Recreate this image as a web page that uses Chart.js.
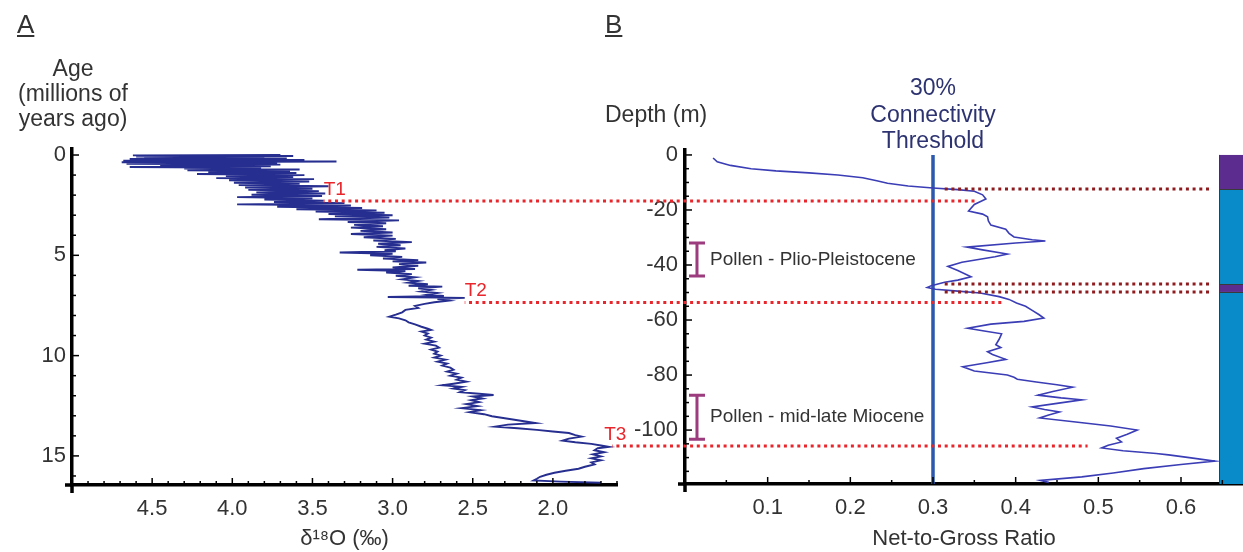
<!DOCTYPE html>
<html>
<head>
<meta charset="utf-8">
<script src="https://cdn.jsdelivr.net/npm/chart.js@4.4.1/dist/chart.umd.min.js"></script>
<style>
  body { margin: 0; background: #fff; }
  #wrap { position: relative; width: 1243px; height: 552px; overflow: hidden; }
  canvas { position: absolute; top: 0; }
  #cvA { left: 0; }
  #cvB { left: 590px; }
</style>
</head>
<body>
<div id="wrap">
  <canvas id="cvA" width="640" height="552"></canvas>
  <canvas id="cvB" width="653" height="552"></canvas>
</div>
<script>
// ---- Panel A: benthic d18O stack vs age ----
const ageMa = [
  0.00, 0.02, 0.05, 0.08, 0.11, 0.14, 0.17, 0.20, 0.24, 0.28, 0.32, 0.36, 0.40, 0.44, 0.48, 0.52,
  0.56, 0.60, 0.64, 0.68, 0.72, 0.76, 0.80, 0.85, 0.90, 0.95, 1.00, 1.05, 1.10, 1.15, 1.20, 1.26,
  1.32, 1.38, 1.44, 1.50, 1.56, 1.62, 1.68, 1.74, 1.80, 1.86, 1.92, 1.98, 2.04, 2.10, 2.16, 2.22,
  2.28, 2.34, 2.40, 2.46, 2.52, 2.58, 2.64, 2.70, 2.76, 2.82, 2.88, 2.94, 3.00, 3.06, 3.12, 3.20,
  3.26, 3.34, 3.40, 3.48, 3.55, 3.62, 3.70, 3.78, 3.86, 3.94, 4.02, 4.10, 4.18, 4.26, 4.34, 4.42,
  4.50, 4.58, 4.66, 4.74, 4.80, 4.86, 4.92, 5.00, 5.08, 5.16, 5.24, 5.30, 5.36, 5.44, 5.52, 5.60,
  5.68, 5.72, 5.78, 5.86, 5.94, 6.02, 6.10, 6.20, 6.28, 6.36, 6.44, 6.52, 6.56, 6.64, 6.72, 6.80,
  6.88, 6.96, 7.02, 7.08, 7.12, 7.18, 7.26, 7.34, 7.42, 7.52, 7.62, 7.72, 7.84, 7.96, 8.06, 8.14,
  8.24, 8.34, 8.44, 8.56, 8.66, 8.72, 8.80, 8.90, 9.00, 9.10, 9.20, 9.30, 9.40, 9.50, 9.60, 9.70,
  9.80, 9.90, 10.00, 10.10, 10.20, 10.30, 10.40, 10.50, 10.60, 10.70, 10.80, 10.90, 11.00, 11.10, 11.20, 11.30,
  11.40, 11.48, 11.56, 11.64, 11.72, 11.82, 11.90, 11.96, 12.04, 12.14, 12.22, 12.32, 12.42, 12.52, 12.62, 12.72,
  12.82, 12.92, 13.02, 13.10, 13.20, 13.30, 13.36, 13.44, 13.54, 13.62, 13.70, 13.78, 13.86, 13.96, 14.04, 14.14,
  14.24, 14.32, 14.40, 14.48, 14.55, 14.62, 14.72, 14.82, 14.92, 15.02, 15.12, 15.22, 15.32, 15.42, 15.54, 15.64,
  15.74, 15.84, 15.94, 16.04, 16.14, 16.22, 16.28, 16.34
];
const d18O = [
  3.70, 4.62, 3.62, 4.60, 3.80, 4.55, 3.66, 4.64, 3.55, 4.68, 3.35, 4.69, 3.72, 4.66, 3.70, 4.45,
  3.76, 4.64, 3.82, 4.30, 3.58, 4.28, 3.64, 4.15, 3.60, 4.22, 3.55, 4.04, 3.62, 4.10, 3.49, 4.02,
  3.52, 3.99, 3.58, 3.96, 3.40, 3.92, 3.50, 3.90, 3.46, 3.85, 3.42, 3.88, 3.44, 3.97, 3.50, 3.80,
  3.43, 3.74, 3.30, 3.97, 3.26, 3.72, 3.19, 3.60, 3.10, 3.48, 3.05, 3.40, 3.00, 3.36, 3.02, 3.46,
  2.96, 3.28, 3.04, 3.24, 3.06, 3.26, 3.04, 3.20, 3.00, 3.26, 3.00, 3.18, 2.98, 3.12, 2.88, 3.09,
  2.95, 3.10, 2.92, 3.05, 2.98, 3.33, 3.00, 3.14, 2.94, 3.06, 2.84, 3.00, 2.79, 2.96, 2.84, 3.00,
  2.86, 3.22, 2.92, 3.04, 2.88, 2.98, 2.86, 2.94, 2.84, 2.90, 2.78, 2.90, 2.69, 2.84, 2.76, 2.82,
  2.72, 2.78, 2.68, 3.03, 2.55, 2.72, 2.65, 2.74, 2.80, 2.86, 2.84, 2.92, 2.94, 2.98, 3.02, 2.96,
  2.92, 2.90, 2.86, 2.82, 2.78, 2.76, 2.82, 2.78, 2.80, 2.76, 2.79, 2.74, 2.80, 2.73, 2.71, 2.76,
  2.72, 2.74, 2.70, 2.74, 2.67, 2.72, 2.66, 2.69, 2.64, 2.62, 2.66, 2.60, 2.64, 2.57, 2.60, 2.54,
  2.62, 2.69, 2.57, 2.62, 2.55, 2.58, 2.46, 2.37, 2.50, 2.44, 2.51, 2.46, 2.54, 2.47, 2.57, 2.45,
  2.52, 2.43, 2.38, 2.32, 2.24, 2.16, 2.11, 2.28, 2.36, 2.22, 2.10, 2.00, 1.90, 1.86, 1.82, 1.90,
  1.94, 1.86, 1.76, 1.70, 1.65, 1.72, 1.74, 1.68, 1.75, 1.70, 1.76, 1.70, 1.76, 1.74, 1.80, 1.84,
  1.92, 1.99, 2.04, 2.08, 2.10, 2.12, 1.95, 1.70
];

// climate transitions, marked in both panels
const tNames = ['T1', 'T2', 'T3'];
const tAgeMa = [2.29, 7.35, 14.5];
const tD18O = [3.43, 2.55, 1.63];
const tDepthM = [-16.7, -53.6, -105.8];
const tNtgEnd = [0.351, 0.385, 0.487];

// ---- Panel B: net-to-gross ratio vs depth ----
const depthM = [
  -1.1, -2.5, -3.8, -5.0, -5.8, -6.5, -7.3, -8.3, -9.4, -10.3, -11.3, -12.0, -12.6, -13.2, -14.5, -16.0,
  -18.0, -20.4, -21.5, -22.5, -24.0, -25.5, -27.0, -28.5, -29.8, -30.8, -31.3, -32.0, -33.5, -34.5, -36.0, -37.0,
  -39.0, -40.5, -42.0, -44.3, -45.5, -46.3, -47.5, -48.2, -48.8, -49.5, -50.2, -51.5, -52.5, -53.8, -55.0, -56.5,
  -58.0, -59.3, -60.5, -61.5, -63.0, -64.0, -65.0, -67.0, -69.0, -70.0, -71.5, -72.5, -74.3, -75.5, -77.0, -78.5,
  -80.0, -80.8, -81.5, -82.5, -83.5, -84.4, -86.0, -87.3, -88.3, -89.0, -90.3, -91.6, -92.5, -93.4, -94.5, -95.6,
  -97.0, -98.5, -100.0, -101.5, -103.0, -104.3, -105.5, -106.5, -107.5, -108.5, -109.0, -110.0, -111.3, -112.5, -114.0, -115.6,
  -117.0, -118.3, -119.0
];
const netToGross = [
  0.034, 0.039, 0.055, 0.080, 0.110, 0.150, 0.185, 0.215, 0.232, 0.245, 0.270, 0.300, 0.330, 0.350, 0.360, 0.364,
  0.350, 0.343, 0.360, 0.366, 0.367, 0.370, 0.388, 0.392, 0.398, 0.420, 0.436, 0.400, 0.341, 0.360, 0.390, 0.375,
  0.335, 0.318, 0.330, 0.346, 0.330, 0.314, 0.298, 0.293, 0.303, 0.330, 0.357, 0.380, 0.392, 0.401, 0.412, 0.420,
  0.428, 0.434, 0.410, 0.370, 0.342, 0.362, 0.383, 0.380, 0.376, 0.382, 0.366, 0.372, 0.388, 0.365, 0.336, 0.350,
  0.390, 0.398, 0.402, 0.425, 0.450, 0.469, 0.445, 0.427, 0.455, 0.480, 0.450, 0.420, 0.435, 0.453, 0.440, 0.429,
  0.470, 0.515, 0.547, 0.535, 0.522, 0.528, 0.512, 0.504, 0.530, 0.570, 0.585, 0.610, 0.641, 0.600, 0.555, 0.518,
  0.480, 0.430, 0.440
];
const threshold = 0.3;
const thresholdLabel = ['30%', 'Connectivity', 'Threshold'];

// lithology column and its boundaries
const zoneTopM = [0, -12.4, -46.9, -49.8];
const zoneBaseM = [-12.4, -46.9, -49.8, -119.6];
const boundaryDepthM = [-12.4, -46.9, -49.8];

// pollen age control
const pollenLabels = ['Pollen - Plio-Pleistocene', 'Pollen - mid-late Miocene'];
const pollenTopM = [-32.0, -87.3];
const pollenBaseM = [-44.0, -103.3];

// ---- styles ----
const FONT = '"Liberation Sans", Arial, Helvetica, sans-serif';
const TEXT = '#333333';
const RED = '#e8262b';
const DARK_RED = '#8e1b1e';
const NAVY = '#262e8f';
const CURVE_B = '#3a3db5';
const THRESH = '#2c58ad';
const POLLEN = '#9c3b7e';
const ZONE_COLORS = ['#5c2d8e', '#0a8bc9', '#5c2d8e', '#0a8bc9'];

Chart.defaults.font.family = FONT;
Chart.defaults.color = TEXT;

function isMultiple(v, step) {
  const r = v / step;
  return Math.abs(r - Math.round(r)) < 1e-6;
}

function dottedLine(ctx, x0, x1, y, color, pageLeft) {
  ctx.save();
  ctx.strokeStyle = color;
  ctx.lineWidth = 3;
  ctx.setLineDash([3, 3.7]);
  ctx.lineDashOffset = x0 + pageLeft;
  ctx.beginPath();
  ctx.moveTo(x0, y);
  ctx.lineTo(x1, y);
  ctx.stroke();
  ctx.restore();
}

function text(ctx, str, x, y, size, color, align) {
  ctx.font = size + 'px ' + FONT;
  ctx.fillStyle = color;
  ctx.textAlign = align || 'left';
  ctx.textBaseline = 'alphabetic';
  ctx.fillText(str, x, y);
}

function panelLetter(ctx, letter, x) {
  text(ctx, letter, x, 33, 26, TEXT);
  const w = ctx.measureText(letter).width;
  ctx.fillRect(x, 35, w, 2);
}

// tick marks drawn on the inside of the axes, plus the short
// overhang where the two axis lines cross
const inwardTicks = {
  id: 'inwardTicks',
  afterDraw(chart, args, opts) {
    const ctx = chart.ctx;
    const area = chart.chartArea;
    ctx.save();
    ctx.strokeStyle = '#000';
    ctx.lineWidth = 3.5;
    ctx.beginPath();
    ctx.moveTo(area.left - 7, area.bottom);
    ctx.lineTo(area.left, area.bottom);
    ctx.moveTo(area.left, area.bottom);
    ctx.lineTo(area.left, area.bottom + 8);
    ctx.stroke();

    ctx.lineWidth = 1.5;
    ['x', 'y'].forEach(id => {
      const scale = chart.scales[id];
      scale.ticks.forEach(t => {
        const p = scale.getPixelForValue(t.value);
        const len = isMultiple(t.value, opts[id]) ? 7 : 4;
        ctx.beginPath();
        if (scale.isHorizontal()) {
          ctx.moveTo(p, scale.top);
          ctx.lineTo(p, scale.top - len);
        } else {
          ctx.moveTo(scale.right, p);
          ctx.lineTo(scale.right + len, p);
        }
        ctx.stroke();
      });
    });
    ctx.restore();
  }
};

const panelA = {
  id: 'panelA',
  afterDraw(chart) {
    const {ctx, scales: {x, y}} = chart;
    ctx.save();
    panelLetter(ctx, 'A', 17);
    text(ctx, 'Age', 73, 76, 23, TEXT, 'center');
    text(ctx, '(millions of', 73, 101, 23, TEXT, 'center');
    text(ctx, 'years ago)', 73, 126, 23, TEXT, 'center');
    tNames.forEach((name, i) => {
      const px = x.getPixelForValue(tD18O[i]);
      const py = y.getPixelForValue(tAgeMa[i]);
      dottedLine(ctx, px, chart.width, py, RED, 0);
      text(ctx, name, px - (i === 2 ? 8 : 0), py - 6, 19, RED);
    });
    ctx.restore();
  }
};

const panelB = {
  id: 'panelB',
  afterDatasetsDraw(chart) {
    const {ctx, scales: {x, y}} = chart;
    const pageLeft = 590;
    ctx.save();
    panelLetter(ctx, 'B', 15);
    text(ctx, 'Depth (m)', 15, 122, 23, TEXT);

    const tx = x.getPixelForValue(threshold);
    thresholdLabel.forEach((s, i) => text(ctx, s, tx, 95 + i * 26.5, 23, '#2d3370', 'center'));

    // lithology column at the right edge
    const sx = x.getPixelForValue(0.646);
    zoneTopM.forEach((top, i) => {
      const y0 = y.getPixelForValue(top);
      const y1 = y.getPixelForValue(zoneBaseM[i]);
      ctx.fillStyle = ZONE_COLORS[i];
      ctx.fillRect(sx, y0, chart.width - sx, y1 - y0);
    });
    ctx.strokeStyle = '#3a3a3a';
    ctx.lineWidth = 1;
    ctx.beginPath();
    ctx.moveTo(sx + 0.5, y.getPixelForValue(0));
    ctx.lineTo(sx + 0.5, y.getPixelForValue(zoneBaseM[zoneBaseM.length - 1]));
    boundaryDepthM.forEach(d => {
      const py = Math.round(y.getPixelForValue(d)) + 0.5;
      ctx.moveTo(sx, py);
      ctx.lineTo(chart.width, py);
    });
    ctx.stroke();

    boundaryDepthM.forEach(d => {
      dottedLine(ctx, x.getPixelForValue(0.311), x.getPixelForValue(0.636), y.getPixelForValue(d), DARK_RED, pageLeft);
    });

    // transitions carried over from panel A
    tDepthM.forEach((d, i) => {
      dottedLine(ctx, 50, x.getPixelForValue(tNtgEnd[i]), y.getPixelForValue(d), RED, pageLeft);
    });

    // pollen ranges
    const bx = x.getPixelForValue(0.0145);
    ctx.strokeStyle = POLLEN;
    ctx.lineWidth = 3;
    pollenLabels.forEach((label, i) => {
      const y0 = y.getPixelForValue(pollenTopM[i]);
      const y1 = y.getPixelForValue(pollenBaseM[i]);
      ctx.beginPath();
      ctx.moveTo(bx, y0); ctx.lineTo(bx, y1);
      ctx.moveTo(bx - 8, y0); ctx.lineTo(bx + 8, y0);
      ctx.moveTo(bx - 8, y1); ctx.lineTo(bx + 8, y1);
      ctx.stroke();
      ctx.font = '19px ' + FONT;
      ctx.fillStyle = TEXT;
      ctx.textAlign = 'left';
      ctx.textBaseline = 'middle';
      ctx.fillText(label, bx + 13, (y0 + y1) / 2);
    });
    ctx.restore();
  }
};

const axisBorder = {display: true, color: '#000', width: 3.5};
const tickFont = {family: FONT, size: 22};

new Chart(document.getElementById('cvA'), {
  type: 'scatter',
  data: {
    datasets: [{
      data: ageMa.map((a, i) => ({x: d18O[i], y: a})),
      showLine: true,
      borderColor: NAVY,
      borderWidth: 1.9,
      pointRadius: 0
    }]
  },
  options: {
    responsive: false,
    animation: false,
    layout: {padding: {top: 149, right: 23, left: 0, bottom: 0}},
    plugins: {legend: {display: false}, tooltip: {enabled: false}, inwardTicks: {x: 0.5, y: 5}},
    scales: {
      x: {
        type: 'linear', reverse: true, min: 1.6, max: 5.0,
        grid: {display: false, drawTicks: false},
        border: axisBorder,
        ticks: {
          stepSize: 0.1, autoSkip: false, includeBounds: false, maxRotation: 0, padding: 11,
          font: tickFont, color: TEXT,
          callback: v => (isMultiple(v, 0.5) && v < 4.9) ? v.toFixed(1) : ''
        },
        title: {display: true, text: 'δ¹⁸O (‰)', font: {family: FONT, size: 22}, color: TEXT, padding: 0},
        afterFit: s => { s.height = 67; }
      },
      y: {
        type: 'linear', reverse: true, min: -0.3, max: 16.45,
        grid: {display: false, drawTicks: false},
        border: axisBorder,
        ticks: {
          stepSize: 1, autoSkip: false, includeBounds: false, padding: 6,
          font: tickFont, color: TEXT,
          callback: v => isMultiple(v, 5) ? String(Math.round(v)) : ''
        },
        afterFit: s => { s.width = 72; }
      }
    }
  },
  plugins: [inwardTicks, panelA]
});

new Chart(document.getElementById('cvB'), {
  type: 'scatter',
  data: {
    datasets: [{
      data: depthM.map((d, i) => ({x: netToGross[i], y: d})),
      showLine: true,
      borderColor: CURVE_B,
      borderWidth: 1.6,
      pointRadius: 0
    }, {
      data: [{x: threshold, y: 0}, {x: threshold, y: -119.6}],
      showLine: true,
      borderColor: THRESH,
      borderWidth: 3.5,
      pointRadius: 0
    }]
  },
  options: {
    responsive: false,
    animation: false,
    layout: {padding: {top: 150, right: 0, left: 0, bottom: 0}},
    plugins: {legend: {display: false}, tooltip: {enabled: false}, inwardTicks: {x: 0.1, y: 20}},
    scales: {
      x: {
        type: 'linear', min: 0, max: 0.675,
        grid: {display: false, drawTicks: false},
        border: axisBorder,
        ticks: {
          stepSize: 0.05, autoSkip: false, includeBounds: false, maxRotation: 0, padding: 11,
          font: tickFont, color: TEXT,
          callback: v => (isMultiple(v, 0.1) && v > 0.05) ? v.toFixed(1) : ''
        },
        title: {display: true, text: 'Net-to-Gross Ratio', font: {family: FONT, size: 22}, color: TEXT, padding: 0},
        afterFit: s => { s.height = 68; }
      },
      y: {
        type: 'linear', min: -119.6, max: 1.8,
        grid: {display: false, drawTicks: false},
        border: axisBorder,
        ticks: {
          stepSize: 5, autoSkip: false, includeBounds: false, padding: 7,
          font: tickFont, color: TEXT,
          callback: v => isMultiple(v, 20) ? String(Math.round(v)) : ''
        },
        afterFit: s => { s.width = 95; }
      }
    }
  },
  plugins: [inwardTicks, panelB]
});
</script>
</body>
</html>
